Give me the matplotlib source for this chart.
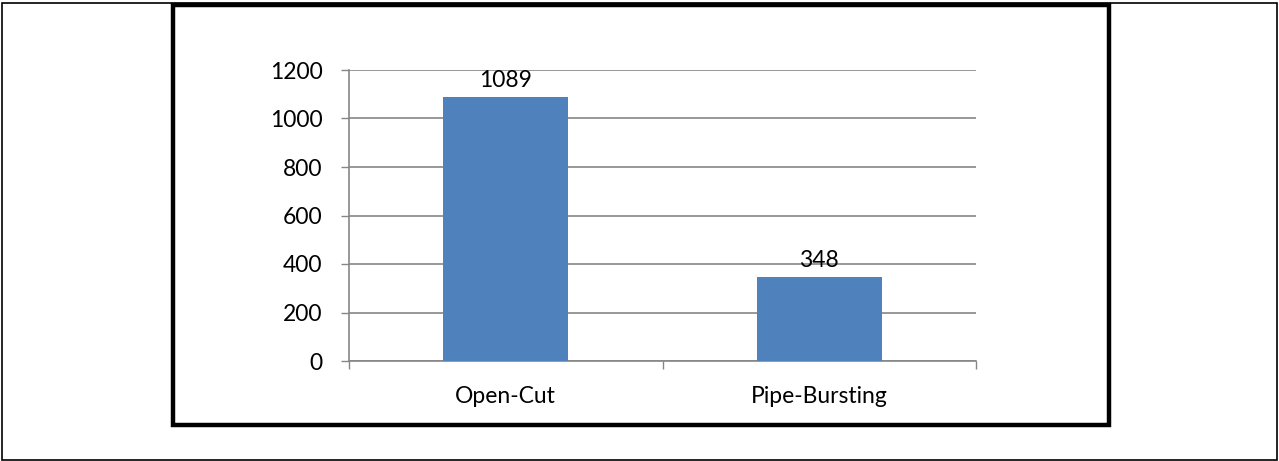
import matplotlib.pyplot as plt
from matplotlib.patches import Rectangle

# Chart data
methods = ["Open-Cut", "Pipe-Bursting"]
values = [1089, 348]
yticks = [0, 200, 400, 600, 800, 1000, 1200]

W, H = 1279, 461
fig = plt.figure(figsize=(W / 100, H / 100), dpi=100)
plt.rcParams["font.family"] = ["Lato", "DejaVu Sans"]

# outer thin border and thick chart frame (pixel coords -> figure fraction)
fig.patches.append(Rectangle((2 / W, 1 / H), 1275 / W, 457 / H, transform=fig.transFigure,
                             fill=False, edgecolor="black", linewidth=1.2))
fig.patches.append(Rectangle((173 / W, 1 - 425 / H), 936 / W, 420 / H, transform=fig.transFigure,
                             fill=False, edgecolor="black", linewidth=3.2))

ax = fig.add_axes([349 / W, 1 - 361 / H, 627 / W, 291 / H])
grey = "#868686"
x = range(len(methods))
bars = ax.bar(x, values, width=0.4, color="#4F81BD", zorder=3)
ax.bar_label(bars, labels=[str(v) for v in values], padding=4, fontsize=16.5)

ax.set_xlim(-0.5, 1.5)
ax.set_ylim(0, 1200)
ax.set_yticks(yticks)
ax.set_xticks(list(x))
ax.set_xticklabels(methods, fontsize=16.5)
ax.set_xticks([-0.5, 0.5, 1.5], minor=True)
ax.tick_params(axis="x", which="major", length=0, pad=18)
ax.tick_params(axis="x", which="minor", length=6, color=grey, width=1)
ax.tick_params(axis="y", length=6, color=grey, width=1, pad=13, labelsize=16.5)
ax.yaxis.grid(True, color=grey, linewidth=1.2, zorder=0)
for s in ["top", "right"]:
    ax.spines[s].set_visible(False)
for s in ["left", "bottom"]:
    ax.spines[s].set_color(grey)
    ax.spines[s].set_linewidth(1.2)

fig.savefig("out.png", dpi=100)
